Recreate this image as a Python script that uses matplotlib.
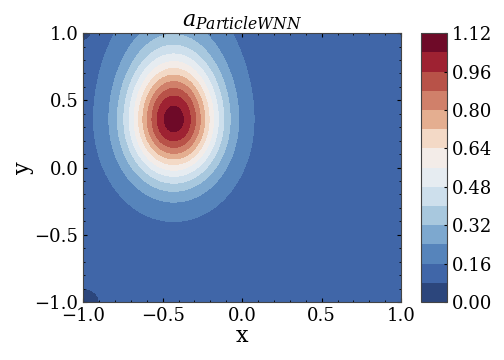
import numpy as np
import matplotlib
matplotlib.use("Agg")
import matplotlib.pyplot as plt
from matplotlib.colors import ListedColormap
from matplotlib.ticker import MultipleLocator

# values
peak_xy = [-0.43, 0.355]       # centre of the bump
peak_height = 0.96             # height above the background
background = 0.12
sigma_x = [0.20, 0.20]         # left, right
sigma_y = [0.30, 0.33]         # below, above
shelf_xy = [-0.45, 1.0]        # weak upward tail of the bump
shelf_height = 0.05
shelf_sigma = [0.24, 0.25]
corner_xy = [(-1.0, -1.0), (-1.0, 1.0), (1.0, 1.0)]
corner_depth = [0.07, 0.065, 0.045]
corner_width = [0.095, 0.07, 0.035]
levels = np.arange(0.0, 1.12 + 1e-9, 0.08)
cbar_ticks = [0.00, 0.16, 0.32, 0.48, 0.64, 0.80, 0.96, 1.12]

# band colours, low to high
band_colors = ["#2c467c", "#4066a8", "#5684bb", "#7da8cf", "#a8c8de",
               "#cddfec", "#e6ecf1", "#f3ece8", "#f3d9c6", "#e4ae90",
               "#d0806a", "#b85248", "#9e2232", "#6e0a28"]

x = np.linspace(-1, 1, 201)
y = np.linspace(-1, 1, 201)
X, Y = np.meshgrid(x, y)

dx = X - peak_xy[0]
dy = Y - peak_xy[1]
sx = np.where(dx < 0, sigma_x[0], sigma_x[1])
sy = np.where(dy < 0, sigma_y[0], sigma_y[1])
Z = background + peak_height * np.exp(-dx**2 / (2 * sx**2) - dy**2 / (2 * sy**2))
Z += shelf_height * np.exp(-(X - shelf_xy[0])**2 / (2 * shelf_sigma[0]**2)
                           - (Y - shelf_xy[1])**2 / (2 * shelf_sigma[1]**2))
for (cx, cy), d, w in zip(corner_xy, corner_depth, corner_width):
    Z -= d * np.exp(-((X - cx)**2 + (Y - cy)**2) / (2 * w**2))

plt.rcParams["font.family"] = "DejaVu Serif"
plt.rcParams["mathtext.fontset"] = "dejavuserif"
plt.rcParams["xtick.direction"] = "in"
plt.rcParams["ytick.direction"] = "in"

fig = plt.figure(figsize=(5.04, 3.6), dpi=100)
ax = fig.add_axes([0.165, 0.161, 0.631, 0.747])
cax = fig.add_axes([0.835, 0.161, 0.052, 0.747])

cmap = ListedColormap(band_colors)
cs = ax.contourf(X, Y, Z, levels=levels, cmap=cmap)
ax.set_xlim(-1, 1)
ax.set_ylim(-1, 1)
ax.set_xticks([-1.0, -0.5, 0.0, 0.5, 1.0])
ax.set_yticks([-1.0, -0.5, 0.0, 0.5, 1.0])
ax.xaxis.set_minor_locator(MultipleLocator(0.1))
ax.yaxis.set_minor_locator(MultipleLocator(0.1))
ax.tick_params(which="both", top=True, right=True, labelsize=13)
ax.tick_params(which="major", length=3)
ax.tick_params(which="minor", length=1.5)
for s in ax.spines.values():
    s.set_color("#444444")
ax.set_xlabel("x", fontsize=16, labelpad=0)
ax.set_ylabel("y", fontsize=16, labelpad=0)
ax.set_title("$a_{ParticleWNN}$", fontsize=16, pad=5)

cb = fig.colorbar(cs, cax=cax, ticks=cbar_ticks)
cb.ax.set_yticklabels(["%.2f" % t for t in cbar_ticks])
cb.ax.tick_params(labelsize=13, direction="in", length=2)
cb.outline.set_edgecolor("#444444")

fig.savefig("out.png", dpi=100)
